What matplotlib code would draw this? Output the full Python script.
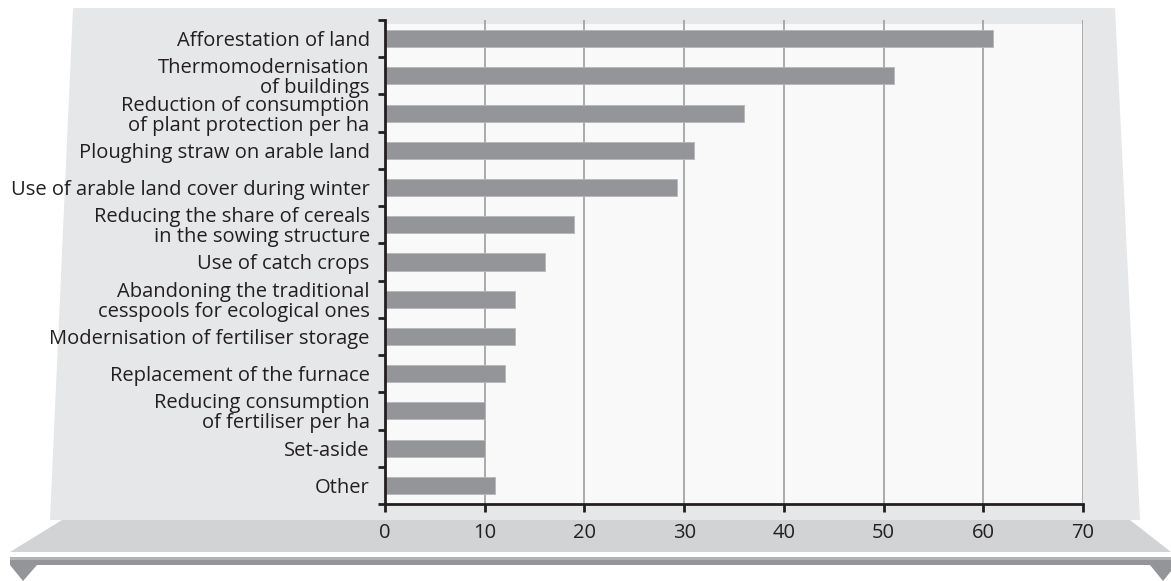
import matplotlib
matplotlib.use("Agg")
import matplotlib.pyplot as plt
from matplotlib.patches import Polygon, Rectangle
from matplotlib.ticker import FixedLocator

# Data
categories = [
    "Afforestation of land",
    "Thermomodernisation\nof buildings",
    "Reduction of consumption\nof plant protection per ha",
    "Ploughing straw on arable land",
    "Use of arable land cover during winter",
    "Reducing the share of cereals\nin the sowing structure",
    "Use of catch crops",
    "Abandoning the traditional\ncesspools for ecological ones",
    "Modernisation of fertiliser storage",
    "Replacement of the furnace",
    "Reducing consumption\nof fertiliser per ha",
    "Set-aside",
    "Other",
]
values = [61, 51, 36, 31, 29.3, 19, 16, 13, 13, 12, 10, 10, 11]
x_ticks = [0, 10, 20, 30, 40, 50, 60, 70]

W, H = 1171, 581
plt.rcParams['font.family'] = ['Open Sans', 'DejaVu Sans']

fig = plt.figure(figsize=(W / 100, H / 100), dpi=100)

# background "stage" drawn in pixel coords
bg = fig.add_axes([0, 0, 1, 1])
bg.set_xlim(0, W)
bg.set_ylim(H, 0)
bg.axis("off")
bg.set_zorder(0)

wall = "#e6e7e8"
floor = "#d1d3d4"
dark = "#939598"
bg.add_patch(Polygon([(73, 8), (1115, 8), (1140, 520), (50, 520)], closed=True, fc=wall, ec="none"))
bg.add_patch(Polygon([(62, 520), (1130, 520), (1171, 552), (10, 552)], closed=True, fc=floor, ec="none"))
bg.add_patch(Rectangle((10, 557), 1161, 3, fc="#b1b3b5", ec="none"))
bg.add_patch(Rectangle((10, 560), 1161, 5, fc=dark, ec="none"))
bg.add_patch(Polygon([(10, 565), (37, 565), (23, 581)], closed=True, fc=dark, ec="none"))
bg.add_patch(Polygon([(1150, 565), (1176, 565), (1163, 581)], closed=True, fc=dark, ec="none"))
bg.add_patch(Rectangle((385, 24), 698, 480, fc="#f9f9f9", ec="none"))

# main chart
left, right, top, bottom = 385, 1083, 20, 504
ax = fig.add_axes([left / W, (H - bottom) / H, (right - left) / W, (bottom - top) / H])
ax.set_zorder(1)
ax.patch.set_visible(False)

n = len(categories)
pos = list(range(n))
ax.barh(pos, values, height=0.46, color=dark, edgecolor="#b5b7b9", linewidth=0.6, zorder=3)
ax.set_xlim(0, 70)
ax.set_ylim(n - 0.5, -0.5)

ax.set_xticks(x_ticks)
ax.set_xticklabels([str(t) for t in x_ticks], fontsize=14.5, color="#231f20")
ax.tick_params(axis="x", length=6, width=2, color="#231f20", pad=8)

ax.set_yticks(pos)
ax.set_yticklabels(categories, fontsize=14.5, color="#231f20", linespacing=1.0)
ax.tick_params(axis="y", which="major", length=0, pad=11)
ax.yaxis.set_minor_locator(FixedLocator([i - 0.5 for i in range(n + 1)]))
ax.tick_params(axis="y", which="minor", length=5, width=2, color="#231f20")

for t in x_ticks[1:]:
    ax.axvline(t, color=dark, linewidth=1.1, zorder=1)

for s in ["top", "right"]:
    ax.spines[s].set_visible(False)
for s in ["left", "bottom"]:
    ax.spines[s].set_linewidth(2)
    ax.spines[s].set_color("#231f20")
    ax.spines[s].set_zorder(4)

fig.savefig("out.png", dpi=100)
